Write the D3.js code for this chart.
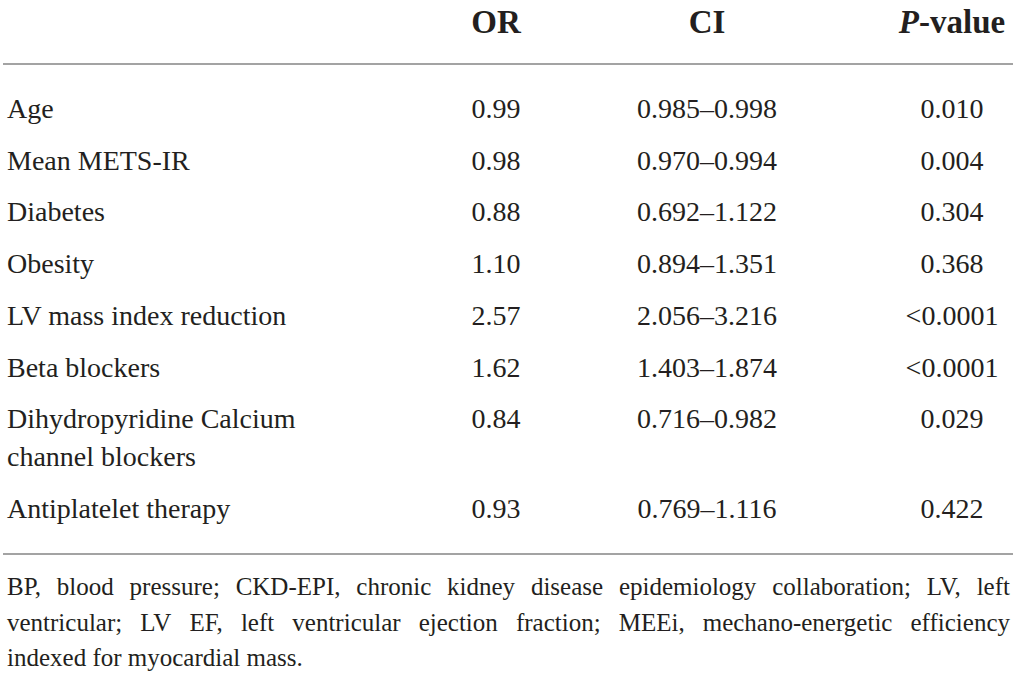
<!DOCTYPE html>
<html>
<head>
<meta charset="utf-8">
<script src="https://cdn.jsdelivr.net/npm/d3@7"></script>
<style>
  html, body { margin: 0; padding: 0; background: #fff; }
  svg { display: block; }
</style>
</head>
<body>
<svg id="chart" width="1017" height="682"></svg>
<script>
// ---- data ----
const headers = ["OR", "CI", "P-value"];
const variables = [
  ["Age"],
  ["Mean METS-IR"],
  ["Diabetes"],
  ["Obesity"],
  ["LV mass index reduction"],
  ["Beta blockers"],
  ["Dihydropyridine Calcium", "channel blockers"],
  ["Antiplatelet therapy"]
];
const orValues = ["0.99", "0.98", "0.88", "1.10", "2.57", "1.62", "0.84", "0.93"];
const ciValues = ["0.985\u20130.998", "0.970\u20130.994", "0.692\u20131.122", "0.894\u20131.351",
                  "2.056\u20133.216", "1.403\u20131.874", "0.716\u20130.982", "0.769\u20131.116"];
const pValues = ["0.010", "0.004", "0.304", "0.368", "<0.0001", "<0.0001", "0.029", "0.422"];
const footnoteLines = [
  "BP, blood pressure; CKD-EPI, chronic kidney disease epidemiology collaboration; LV, left",
  "ventricular; LV EF, left ventricular ejection fraction; MEEi, mechano-energetic efficiency",
  "indexed for myocardial mass."
];

// ---- layout ----
const W = 1017;
const svg = d3.select("#chart");
const ink = "#231f20";
const fontFamily = "'Liberation Serif', 'Times New Roman', serif";

const colX = d3.scaleOrdinal().domain(["or", "ci", "p"]).range([496, 707, 952]);
const leftX = 7;

// header
const headerBaseline = 33;
const hdr = svg.append("g").attr("font-family", fontFamily).attr("font-weight", "bold")
  .attr("font-size", 33).attr("fill", ink).attr("text-anchor", "middle");
hdr.append("text").attr("x", colX("or")).attr("y", headerBaseline).text(headers[0]);
hdr.append("text").attr("x", colX("ci")).attr("y", headerBaseline).text(headers[1]);
const ph = hdr.append("text").attr("x", colX("p")).attr("y", headerBaseline);
ph.append("tspan").attr("font-style", "italic").text(headers[2].slice(0, 1));
ph.append("tspan").text(headers[2].slice(1));

// rules
const ruleColor = "#a3a3a3";
const rules = [64, 554];
svg.selectAll("line.rule").data(rules).join("line")
  .attr("class", "rule")
  .attr("x1", 3).attr("x2", W - 4)
  .attr("y1", d => d).attr("y2", d => d)
  .attr("stroke", ruleColor).attr("stroke-width", 2);

// body rows
const rowStep = 51.7;
const wrapStep = 38;
const firstBaseline = 118;
let yAcc = firstBaseline;
const rowY = variables.map((v, i) => {
  const y = yAcc;
  yAcc += rowStep + (v.length - 1) * wrapStep;
  return y;
});

const body = svg.append("g").attr("font-family", fontFamily).attr("font-size", 28).attr("fill", ink);
const rows = body.selectAll("g.row").data(variables.map((v, i) => ({
  label: v, or: orValues[i], ci: ciValues[i], p: pValues[i], y: rowY[i]
}))).join("g").attr("class", "row");

rows.each(function (d) {
  const g = d3.select(this);
  const t = g.append("text").attr("x", leftX).attr("y", d.y);
  d.label.forEach((ln, j) => {
    t.append("tspan").attr("x", leftX).attr("y", d.y + j * wrapStep).text(ln);
  });
  g.append("text").attr("x", colX("or")).attr("y", d.y).attr("text-anchor", "middle").text(d.or);
  g.append("text").attr("x", colX("ci")).attr("y", d.y).attr("text-anchor", "middle").text(d.ci);
  g.append("text").attr("x", colX("p")).attr("y", d.y).attr("text-anchor", "middle").text(d.p);
});

// footnote (justified)
const fnSize = 25;
const fnBaselines = [595, 631, 666];
const fnLeft = 7, fnRight = 1010;
const fn = svg.append("g").attr("font-family", fontFamily).attr("font-size", fnSize).attr("fill", ink);
const spaceW = (() => {
  const tmp = fn.append("text").text("a a");
  const a = fn.append("text").text("aa");
  const s = tmp.node().getComputedTextLength() - a.node().getComputedTextLength();
  tmp.remove(); a.remove();
  return s;
})();
footnoteLines.forEach((line, li) => {
  const words = line.split(" ");
  const justify = li < footnoteLines.length - 1;
  const nodes = words.map(w => fn.append("text").attr("y", fnBaselines[li]).text(w));
  const widths = nodes.map(n => n.node().getComputedTextLength());
  const total = d3.sum(widths);
  const gap = justify ? (fnRight - fnLeft - total) / (words.length - 1) : spaceW;
  let x = fnLeft;
  nodes.forEach((n, i) => { n.attr("x", x); x += widths[i] + gap; });
});
</script>
</body>
</html>
